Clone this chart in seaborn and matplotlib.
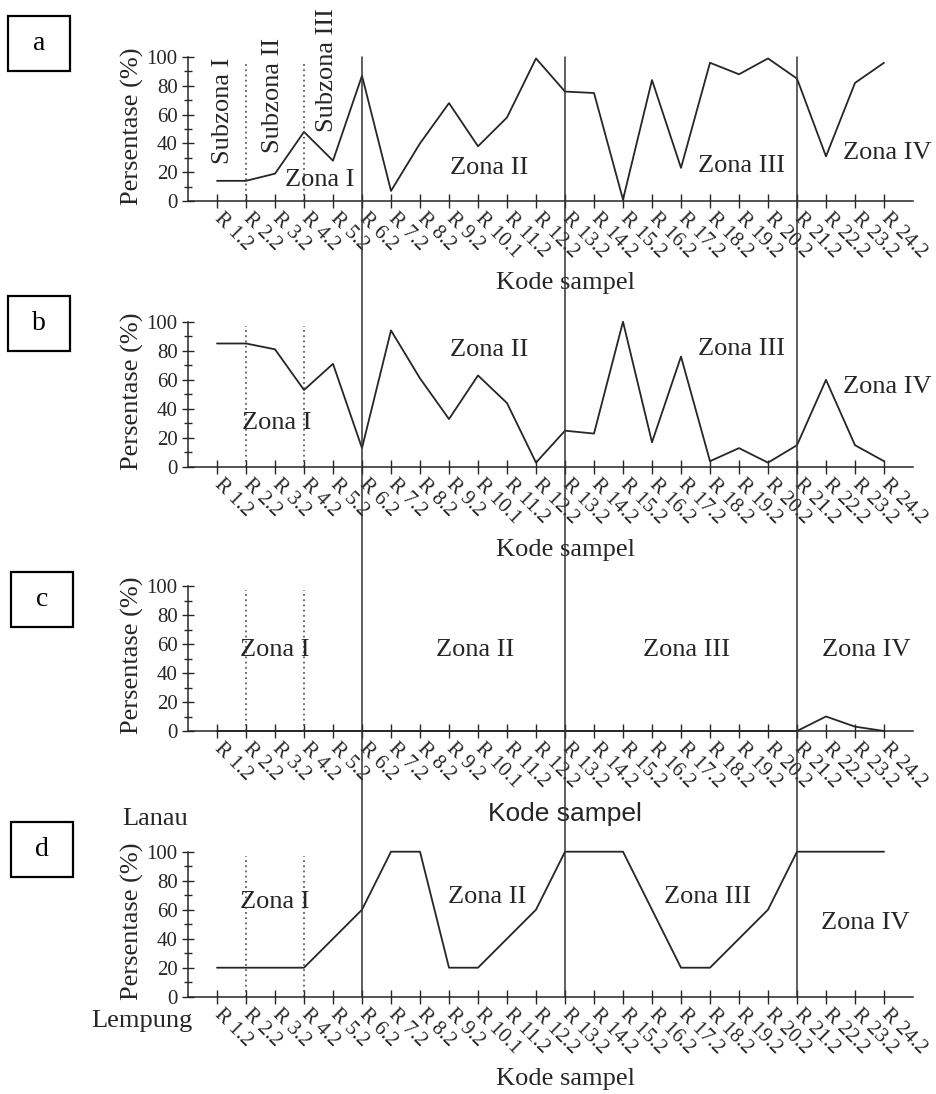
import numpy as np
import seaborn as sns
import matplotlib.pyplot as plt
import matplotlib.transforms as mtransforms
from matplotlib.patches import ConnectionPatch, Rectangle

# ======= data
sample_codes = ["R 1.2", "R 2.2", "R 3.2", "R 4.2", "R 5.2", "R 6.2", "R 7.2", "R 8.2",
                "R 9.2", "R 10.1", "R 11.2", "R 12.2", "R 13.2", "R 14.2", "R 15.2",
                "R 16.2", "R 17.2", "R 18.2", "R 19.2", "R 20.2", "R 21.2", "R 22.2",
                "R 23.2", "R 24.2"]

panel_a = [14, 14, 19, 48, 28, 87, 7, 40, 68, 38, 58, 99,
           76, 75, 1, 84, 23, 96, 88, 99, 85, 31, 82, 96]
panel_b = [85, 85, 81, 53, 71, 13, 94, 61, 33, 63, 44, 3,
           25, 23, 100, 17, 76, 4, 13, 3, 15, 60, 15, 4]
panel_c = [0, 0, 0, 0, 0, 0, 0, 0, 0, 0, 0, 0,
           0, 0, 0, 0, 0, 0, 0, 0, 0, 10, 3, 0]
panel_d = [20, 20, 20, 20, 40, 60, 100, 100, 20, 20, 40, 60,
           100, 100, 100, 60, 20, 20, 40, 60, 100, 100, 100, 100]

zone_bounds = [5, 12, 20]      # R 6.2, R 13.2, R 21.2
subzone_bounds = [1, 3]        # R 2.2, R 4.2
panel_letters = ["a", "b", "c", "d"]

# zone labels per panel: (text, x, y)
zone_labels = [
    [("Zona I", 3.55, 14.5), ("Zona II", 9.4, 23), ("Zona III", 18.1, 24), ("Zona IV", 23.1, 33)],
    [("Zona I", 2.07, 30), ("Zona II", 9.4, 80.5), ("Zona III", 18.1, 81), ("Zona IV", 23.1, 55)],
    [("Zona I", 2.0, 56), ("Zona II", 8.9, 56), ("Zona III", 16.2, 56), ("Zona IV", 22.4, 56)],
    [("Zona I", 2.0, 65.5), ("Zona II", 9.3, 69), ("Zona III", 16.9, 69), ("Zona IV", 22.35, 51)],
]
subzone_labels = [("Subzona I", 0.2, 62.5), ("Subzona II", 1.93, 73.6), ("Subzona III", 3.8, 91)]

# ======= style
sns.set_style("ticks")
plt.rcParams["font.family"] = ["Liberation Serif", "DejaVu Serif"]
plt.rcParams["mathtext.fontset"] = "stix"

W, H = 936, 1094
fig = plt.figure(figsize=(W / 100, H / 100), dpi=100)

ink = "#262626"
axes_px = [(201, 144), (467, 145.3), (731, 145), (996.7, 145)]   # (x-axis y px, height px)
box_px = [(8, 16), (8, 296), (11, 572), (11, 822)]

x = np.arange(len(sample_codes))
axes = []
for i, (vals, (y0, h)) in enumerate(zip([panel_a, panel_b, panel_c, panel_d], axes_px)):
    ax = fig.add_axes([188 / W, 1 - y0 / H, 725 / W, h / H])
    axes.append(ax)
    sns.lineplot(x=x, y=vals, ax=ax, color=ink, linewidth=1.3, clip_on=False)
    ax.set_xlim(-1, 24)
    ax.set_ylim(0, 100)
    sns.despine(ax=ax)
    for side in ["left", "bottom"]:
        ax.spines[side].set_linewidth(1.1)
        ax.spines[side].set_color(ink)
    ax.set_yticks(np.arange(0, 101, 20))
    ax.set_yticks(np.arange(10, 100, 20), minor=True)
    ax.tick_params(axis="y", which="major", direction="inout", length=9, width=1.0,
                   color=ink, labelsize=15, labelcolor=ink, pad=3)
    ax.tick_params(axis="y", which="minor", direction="inout", length=6, width=1.0, color=ink)
    ax.set_xticks(x)
    ax.set_xticklabels(sample_codes, rotation=-45, ha="left", va="center",
                       rotation_mode="anchor", fontsize=15, color=ink)
    ax.tick_params(axis="x", direction="inout", length=10, width=1.0, color=ink, pad=6)
    ax.set_xlabel("")
    ax.set_ylabel("")

    # y label
    ax.text(-0.077, 0.52, "Persentase (%)", transform=ax.transAxes, rotation=90,
            ha="center", va="center", fontsize=19, color=ink)

    # x label
    trans = mtransforms.blended_transform_factory(ax.transData, ax.transAxes)
    if i == 2:
        ax.text(12, -0.57, "Kode sampel", transform=trans, ha="center", va="center",
                fontsize=19, color=ink, family=["Liberation Sans", "DejaVu Sans"])
    else:
        ax.text(12, -0.57, "Kode sampel", transform=trans, ha="center", va="center",
                fontsize=19, color=ink)

    # dotted subzone lines
    for b in subzone_bounds:
        ax.axvline(b, ymin=0, ymax=0.97, color="#444444", linestyle=(0, (1.2, 2.2)),
                   linewidth=1.1)

    for txt, tx, ty in zone_labels[i]:
        ax.text(tx, ty, txt, ha="center", va="center", fontsize=19, color=ink)

    # panel letter box
    bx, by = box_px[i]
    fig.add_artist(Rectangle((bx / W, 1 - (by + 55) / H), 62 / W, 55 / H,
                             transform=fig.transFigure, fill=False, linewidth=1.6,
                             edgecolor="black"))
    fig.text((bx + 31) / W, 1 - (by + 27.5) / H, panel_letters[i], ha="center",
             va="center", fontsize=20, color="black")

for txt, tx, ty in subzone_labels:
    axes[0].text(tx, ty, txt, rotation=90, ha="center", va="center", fontsize=19, color=ink)

axes[3].text(-0.0455, 1.225, "Lanau", transform=axes[3].transAxes, ha="center",
             va="center", fontsize=19, color=ink)
axes[3].text(-0.0634, -0.168, "Lempung", transform=axes[3].transAxes, ha="center",
             va="center", fontsize=19, color=ink)

# solid zone boundaries running through all panels
for b in zone_bounds:
    con = ConnectionPatch(xyA=(b, 100), coordsA=axes[0].transData,
                          xyB=(b, 0), coordsB=axes[3].transData,
                          color="#333333", linewidth=1.1)
    fig.add_artist(con)

fig.savefig("out.png", dpi=100)
